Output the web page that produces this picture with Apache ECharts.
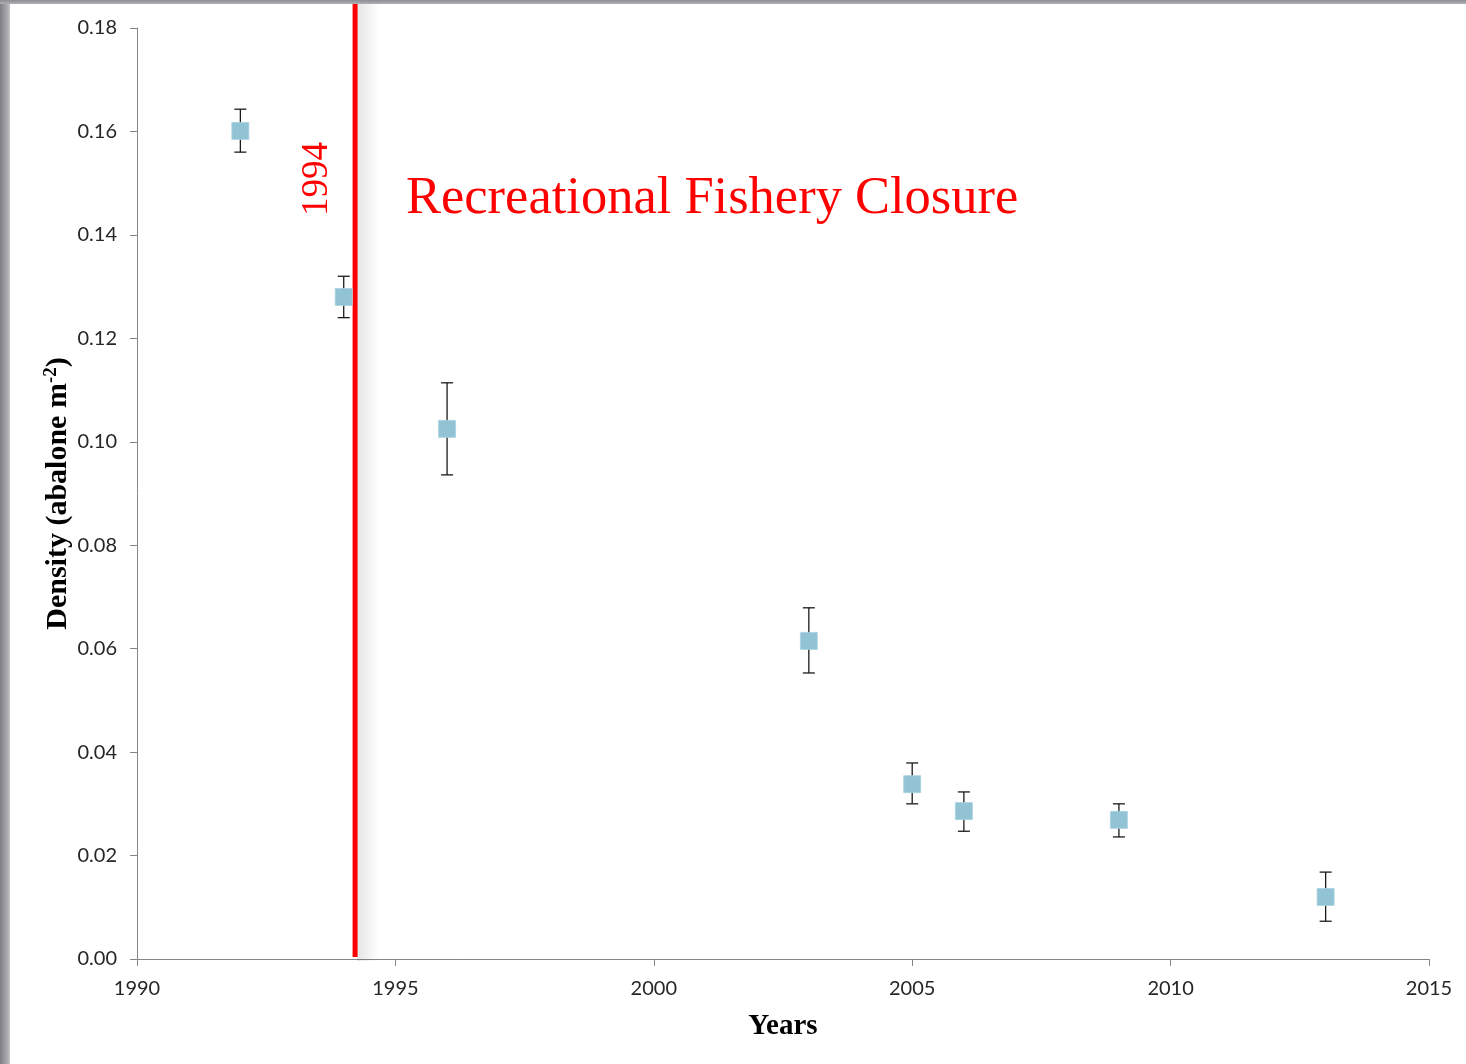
<!DOCTYPE html>
<html>
<head>
<meta charset="utf-8">
<script src="https://cdn.jsdelivr.net/npm/echarts@6/dist/echarts.min.js"></script>
<style>
  html, body { margin: 0; padding: 0; background: #fff; }
  #chart { position: absolute; left: 0; top: 0; width: 1466px; height: 1064px; }
  #edgeLeft { position: absolute; left: 0; top: 0; width: 10px; height: 1064px;
    background: linear-gradient(to right, #7e7e84, #a9a9ae 70%, #c4c4c8); }
  #edgeTop { position: absolute; left: 0; top: 0; width: 1466px; height: 4px;
    background: linear-gradient(to bottom, #8e8e92, #b0b0b4); }
</style>
</head>
<body>
<div id="chart"></div>
<div id="edgeLeft"></div>
<div id="edgeTop"></div>
<script>
// survey years and mean density with standard error
const years = [1992, 1994, 1996, 2003, 2005, 2006, 2009, 2013];
const density = [0.1601, 0.1280, 0.1025, 0.0615, 0.0338, 0.0286, 0.0269, 0.0120];
const errLow = [0.0041, 0.0040, 0.0089, 0.0062, 0.0038, 0.0039, 0.0033, 0.0047];
const errHigh = [0.0042, 0.0040, 0.0089, 0.0064, 0.0041, 0.0037, 0.0031, 0.0048];
const closureYear = [1994.22];
const xTicks = [1990, 1995, 2000, 2005, 2010, 2015];
const yTicks = [0, 0.02, 0.04, 0.06, 0.08, 0.10, 0.12, 0.14, 0.16, 0.18];

const points = years.map((y, i) => [y, density[i]]);
const bars = years.map((y, i) => [y, density[i] - errLow[i], density[i] + errHigh[i]]);

const chart = echarts.init(document.getElementById('chart'));

const tickFont = { fontFamily: 'Lato, "Open Sans", sans-serif', fontSize: 20, color: '#262626' };
const titleFont = { fontFamily: '"Liberation Serif", serif', fontWeight: 'bold', color: '#000' };

chart.setOption({
  animation: false,
  backgroundColor: 'transparent',
  grid: { left: 137, right: 37, top: 28, bottom: 105, containLabel: false },
  xAxis: {
    type: 'value',
    min: xTicks[0],
    max: xTicks[xTicks.length - 1],
    interval: 5,
    name: 'Years',
    nameLocation: 'middle',
    nameGap: 53,
    nameTextStyle: { ...titleFont, fontSize: 29 },
    axisLine: { lineStyle: { color: '#868686', width: 1 } },
    axisTick: { show: true, length: 7, lineStyle: { color: '#868686' } },
    axisLabel: { margin: 20, formatter: v => String(v), ...tickFont },
    splitLine: { show: false }
  },
  yAxis: {
    type: 'value',
    min: yTicks[0],
    max: yTicks[yTicks.length - 1],
    interval: 0.02,
    name: '{t|Density (abalone m}{s|-2}{t|)}',
    nameLocation: 'middle',
    nameRotate: 90,
    nameGap: 63,
    nameMoveOverlap: false,
    nameTextStyle: {
      rich: {
        t: { ...titleFont, fontSize: 30, lineHeight: 32 },
        s: { ...titleFont, fontSize: 19, lineHeight: 32, verticalAlign: 'top', padding: [0, 0, 13, 0] }
      }
    },
    axisLine: { show: true, lineStyle: { color: '#868686', width: 1 } },
    axisTick: { show: true, length: 7, lineStyle: { color: '#868686' } },
    axisLabel: { margin: 20, formatter: v => v.toFixed(2), ...tickFont },
    splitLine: { show: false }
  },
  series: [
    {
      name: 'closure',
      type: 'custom',
      silent: true,
      z: 1,
      data: closureYear.map(x => [x]),
      renderItem: function (params, api) {
        const bottom = api.coord([api.value(0), 0]);
        const top = api.coord([api.value(0), yTicks[yTicks.length - 1]]);
        return {
          type: 'group',
          children: [
            {
              type: 'rect',
              shape: { x: bottom[0] + 2, y: top[1] - 24, width: 22, height: bottom[1] - top[1] + 26 },
              style: {
                fill: new echarts.graphic.LinearGradient(0, 0, 1, 0, [
                  { offset: 0, color: 'rgba(0,0,0,0.10)' },
                  { offset: 0.5, color: 'rgba(0,0,0,0.05)' },
                  { offset: 1, color: 'rgba(0,0,0,0)' }
                ])
              }
            },
            {
              type: 'line',
              shape: { x1: bottom[0], y1: bottom[1] - 2, x2: bottom[0], y2: top[1] - 24 },
              style: { stroke: '#ff0000', lineWidth: 5 }
            }
          ]
        };
      }
    },
    {
      name: 'error',
      type: 'custom',
      z: 2,
      data: bars,
      renderItem: function (params, api) {
        const x = api.value(0);
        const lo = api.coord([x, api.value(1)]);
        const hi = api.coord([x, api.value(2)]);
        const cap = 6;
        const st = { stroke: '#1a1a1a', lineWidth: 1.3 };
        return {
          type: 'group',
          children: [
            { type: 'line', shape: { x1: lo[0], y1: lo[1], x2: hi[0], y2: hi[1] }, style: st },
            { type: 'line', shape: { x1: lo[0] - cap, y1: lo[1], x2: lo[0] + cap, y2: lo[1] }, style: st },
            { type: 'line', shape: { x1: hi[0] - cap, y1: hi[1], x2: hi[0] + cap, y2: hi[1] }, style: st }
          ]
        };
      }
    },
    {
      name: 'density',
      type: 'scatter',
      z: 3,
      symbol: 'rect',
      symbolSize: 17,
      itemStyle: { color: '#92c3d5', borderColor: '#a9d2e0', borderWidth: 0.8, opacity: 1 },
      data: points
    }
  ],
  graphic: [
    {
      type: 'text',
      left: 299,
      top: 142,
      rotation: Math.PI / 2,
      style: { text: '1994', fill: '#ff0000', font: '37px "Liberation Serif", serif' },
      silent: true
    },
    {
      type: 'text',
      left: 406,
      top: 173,
      style: { text: 'Recreational Fishery Closure', fill: '#ff0000', font: '52.5px "Liberation Serif", serif' },
      silent: true
    }
  ]
});
</script>
</body>
</html>
